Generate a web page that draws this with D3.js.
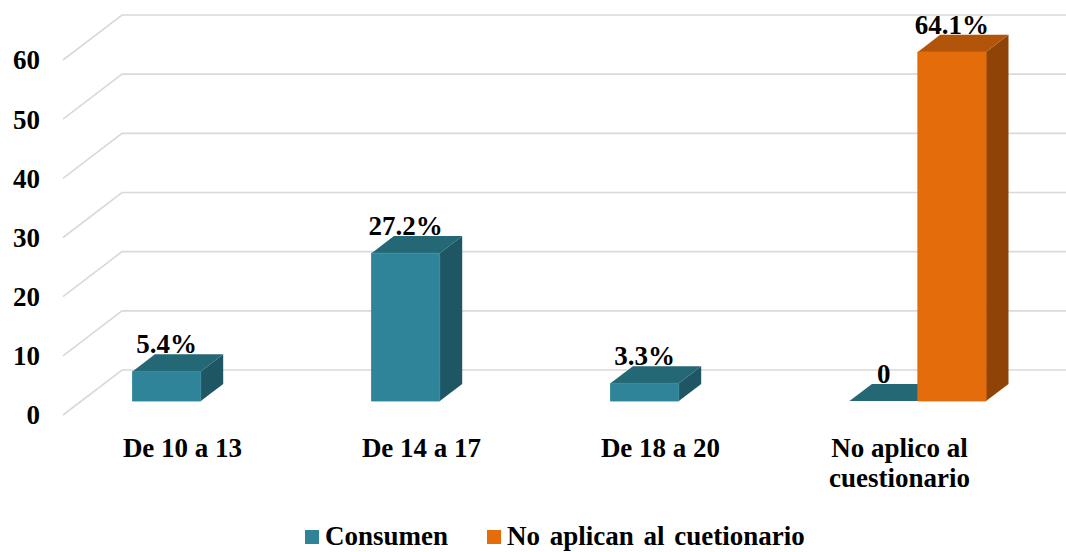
<!DOCTYPE html>
<html>
<head>
<meta charset="utf-8">
<title>Consumo por edad</title>
<style>
  body { margin: 0; background: #fff; }
  text { font-family: "Liberation Serif", "Times New Roman", serif; font-weight: bold; fill: #000; }
</style>
</head>
<body>
<script src="https://d3js.org/d3.v7.min.js"></script>
<script>
    var width = 1066,
        height = 552;

    // data (counts, labels are the printed percentages)
    var categories = ["De 10 a 13", "De 14 a 17", "De 18 a 20", "No aplico al cuestionario"];
    var series = ["Consumen", "No aplican al cuetionario"];
    var consumen = [5, 25, 3, 0];
    var noAplican = [null, null, null, 59];
    var consumenLabels = ["5.4%", "27.2%", "3.3%", "0"];
    var noAplicanLabels = [null, null, null, "64.1%"];
    var yTicks = [0, 10, 20, 30, 40, 50, 60];

    var colors = {
        "Consumen": { front: "#2F849A", top: "#246876", side: "#1E5664" },
        "No aplican al cuetionario": { front: "#E46C0B", top: "#B25409", side: "#904306" }
    };

    var depthX = 59, depthY = -45,   // full depth of the floor
        d0 = 0.31, d1 = 0.69;        // bar depth inside the floor

    var x0 = d3.scaleBand().domain(categories).range([63, 1019]).padding(0);
    var x1 = d3.scaleBand().domain(series).range([0, x0.bandwidth()])
        .paddingInner(0).paddingOuter(0.75);
    var y = d3.scaleLinear().domain([0, 60]).range([415, 60]);

    function pt(x, v, d) {
        return [x + d * depthX, y(v) + d * depthY];
    }

    var svg = d3.select("body").append("svg")
        .attr("width", width)
        .attr("height", height);

    // gridlines: side wall diagonal + back wall horizontal
    var grid = svg.append("g");
    yTicks.forEach(function (t) {
        var a = pt(x0.range()[0], t, 0), b = pt(x0.range()[0], t, 1), c = pt(x0.range()[1], t, 1);
        grid.append("path")
            .attr("d", d3.line()([a, b, [width + 20, c[1]]]))
            .attr("fill", "none")
            .attr("stroke", "#D9D9D9")
            .attr("stroke-width", 1.6);
    });

    // y axis labels
    svg.append("g").selectAll("text")
        .data(yTicks)
        .enter().append("text")
        .attr("x", 40)
        .attr("y", function (d) { return y(d); })
        .attr("dy", "0.35em")
        .attr("text-anchor", "end")
        .style("font-size", "27px")
        .text(function (d) { return d; });

    // build bar list
    var bars = [];
    categories.forEach(function (c, i) {
        if (consumen[i] != null) bars.push({ cat: c, s: series[0], v: consumen[i], label: consumenLabels[i] });
        if (noAplican[i] != null) bars.push({ cat: c, s: series[1], v: noAplican[i], label: noAplicanLabels[i] });
    });

    var barG = svg.append("g").selectAll("g")
        .data(bars)
        .enter().append("g");

    function poly(pts) { return d3.line()(pts) + "Z"; }

    // side face
    barG.append("path")
        .attr("d", function (d) {
            var xr = x0(d.cat) + x1(d.s) + x1.bandwidth();
            return poly([pt(xr, 0, d0), pt(xr, 0, d1), pt(xr, d.v, d1), pt(xr, d.v, d0)]);
        })
        .attr("fill", function (d) { return colors[d.s].side; });

    // top face
    barG.append("path")
        .attr("d", function (d) {
            var xl = x0(d.cat) + x1(d.s), xr = xl + x1.bandwidth();
            return poly([pt(xl, d.v, d0), pt(xr, d.v, d0), pt(xr, d.v, d1), pt(xl, d.v, d1)]);
        })
        .attr("fill", function (d) { return colors[d.s].top; });

    // front face
    barG.append("path")
        .attr("d", function (d) {
            var xl = x0(d.cat) + x1(d.s), xr = xl + x1.bandwidth();
            return poly([pt(xl, 0, d0), pt(xr, 0, d0), pt(xr, d.v, d0), pt(xl, d.v, d0)]);
        })
        .attr("fill", function (d) { return colors[d.s].front; })
        .attr("stroke", function (d) { return d.v > 0 ? colors[d.s].front : "none"; })
        .attr("stroke-width", 0.8);

    // data labels
    svg.append("g").selectAll("text")
        .data(bars)
        .enter().append("text")
        .attr("x", function (d) { return pt(x0(d.cat) + x1(d.s) + x1.bandwidth() / 2, d.v, d0)[0]; })
        .attr("y", function (d) { return pt(0, d.v, d1)[1] - 1; })
        .attr("text-anchor", "middle")
        .style("font-size", "27px")
        .text(function (d) { return d.label; });

    // category labels
    var catLines = {
        "No aplico al cuestionario": ["No aplico al", "cuestionario"]
    };
    var catG = svg.append("g").selectAll("text")
        .data(categories)
        .enter().append("text")
        .attr("x", function (d) { return x0(d) + x0.bandwidth() / 2; })
        .attr("y", 457)
        .attr("text-anchor", "middle")
        .style("font-size", "27px");
    catG.selectAll("tspan")
        .data(function (d) { return catLines[d] || [d]; })
        .enter().append("tspan")
        .attr("x", function () { var p = this.parentNode; return p.getAttribute("x"); })
        .attr("dy", function (d, i) { return i ? 30 : 0; })
        .text(function (d) { return d; });

    // legend
    var legendX = [305, 487];
    var legend = svg.append("g").selectAll("g")
        .data(series)
        .enter().append("g")
        .attr("transform", function (d, i) { return "translate(" + legendX[i] + ",530)"; });
    legend.append("rect")
        .attr("width", 14)
        .attr("height", 14)
        .attr("fill", function (d) { return colors[d].front; });
    legend.append("text")
        .attr("x", 20)
        .attr("y", 15)
        .style("font-size", "27px")
        .style("word-spacing", "3px")
        .text(function (d) { return d; });
</script>
</body>
</html>
